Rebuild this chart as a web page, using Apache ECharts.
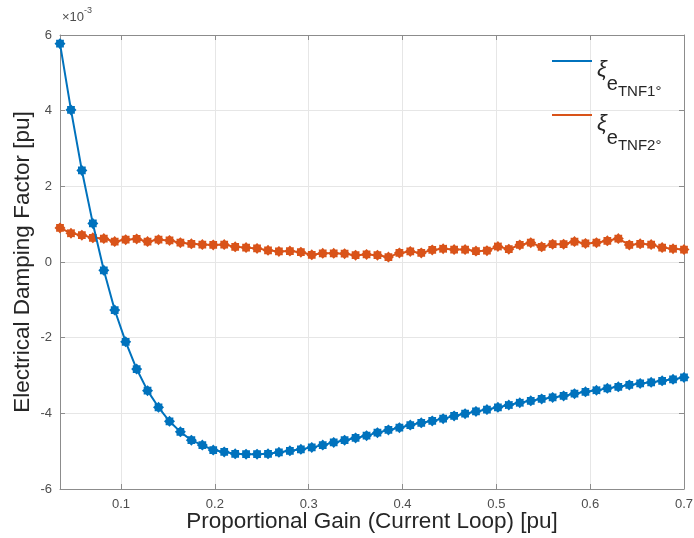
<!DOCTYPE html>
<html>
<head>
<meta charset="utf-8">
<title>Electrical damping factor</title>
<script src="https://cdn.jsdelivr.net/npm/echarts@6/dist/echarts.min.js"></script>
<style>
  html, body { margin: 0; padding: 0; background: #fff; }
  #main { width: 694px; height: 538px; }
</style>
</head>
<body>
<div id="main"></div>
<script>
// proportional gain of the current loop [pu]
var gainKp = [
  0.035, 0.0467, 0.0583, 0.07, 0.0817, 0.0933, 0.105, 0.1167, 0.1283, 0.14,
  0.1517, 0.1633, 0.175, 0.1867, 0.1983, 0.21, 0.2217, 0.2333, 0.245, 0.2567,
  0.2683, 0.28, 0.2917, 0.3033, 0.315, 0.3267, 0.3383, 0.35, 0.3617, 0.3733,
  0.385, 0.3967, 0.4083, 0.42, 0.4317, 0.4433, 0.455, 0.4667, 0.4783, 0.49,
  0.5017, 0.5133, 0.525, 0.5367, 0.5483, 0.56, 0.5717, 0.5833, 0.595, 0.6067,
  0.6183, 0.63, 0.6417, 0.6533, 0.665, 0.6767, 0.6883, 0.7
];
// damping factor, in units of 1e-3 pu
var dampTNF1 = [
  5.77, 4.02, 2.42, 1.02, -0.22, -1.27, -2.11, -2.83, -3.40, -3.84,
  -4.21, -4.49, -4.71, -4.84, -4.97, -5.02, -5.07, -5.08, -5.08, -5.07,
  -5.03, -4.99, -4.95, -4.90, -4.84, -4.77, -4.71, -4.65, -4.59, -4.51,
  -4.44, -4.38, -4.31, -4.25, -4.20, -4.14, -4.07, -4.01, -3.95, -3.90,
  -3.84, -3.78, -3.72, -3.67, -3.62, -3.58, -3.54, -3.48, -3.43, -3.39,
  -3.34, -3.30, -3.25, -3.21, -3.18, -3.14, -3.10, -3.05
];
var dampTNF2 = [
  0.90, 0.76, 0.71, 0.64, 0.62, 0.54, 0.59, 0.61, 0.54, 0.59,
  0.57, 0.51, 0.48, 0.46, 0.45, 0.46, 0.40, 0.38, 0.36, 0.31,
  0.28, 0.29, 0.26, 0.19, 0.23, 0.23, 0.22, 0.18, 0.20, 0.18,
  0.13, 0.24, 0.28, 0.24, 0.32, 0.35, 0.33, 0.33, 0.29, 0.30,
  0.41, 0.34, 0.45, 0.51, 0.40, 0.47, 0.47, 0.54, 0.49, 0.51,
  0.56, 0.62, 0.45, 0.48, 0.46, 0.38, 0.35, 0.33
];
var seriesNames = ["TNF1°", "TNF2°"];

var chart = echarts.init(document.getElementById("main"));
var fontFamily = "'Liberation Sans', Arial, sans-serif";
var axisColor = "#8c8c8c";
var labelColor = "#4d4d4d";
var gridColor = "#e6e6e6";

// matlab '*' marker drawn thick looks like a bumpy blob
function starPath(n) {
  var pts = [];
  for (var i = 0; i < n * 2; i++) {
    var r = i % 2 === 0 ? 1 : 0.76;
    var a = (Math.PI * i) / n - Math.PI / 2;
    pts.push((r * Math.cos(a)).toFixed(3) + "," + (r * Math.sin(a)).toFixed(3));
  }
  return "path://M" + pts.join("L") + "Z";
}
var marker = starPath(8);

function pairs(xs, ys) {
  var out = [];
  for (var i = 0; i < xs.length; i++) out.push([xs[i], ys[i]]);
  return out;
}

var tickStyle = { show: true, inside: true, length: 5, lineStyle: { color: axisColor } };
var lineStyle = { show: true, onZero: false, lineStyle: { color: axisColor } };

var option = {
  backgroundColor: "#fff",
  animation: false,
  grid: { left: 60, right: 10, top: 35, bottom: 49, outerBoundsMode: "none", containLabel: false },
  legend: {
    orient: "vertical",
    left: 552,
    top: 49,
    padding: 0,
    itemGap: 4,
    itemWidth: 40,
    itemHeight: 2,
    icon: "rect",
    data: seriesNames,
    formatter: function (name) {
      return "{a|ξ}{b|e}{c|" + name + "}";
    },
    textStyle: {
      fontFamily: fontFamily,
      color: "#262626",
      rich: {
        a: { fontSize: 22, lineHeight: 24, verticalAlign: "top", padding: [10, 0, 0, 0], fontStyle: "italic" },
        b: { fontSize: 20, lineHeight: 20, verticalAlign: "top", padding: [25, 0, 0, 0] },
        c: { fontSize: 15, lineHeight: 15, verticalAlign: "top", padding: [35, 0, 0, 0] },
      },
    },
  },
  xAxis: [
    {
      type: "value",
      min: 0.035,
      max: 0.7,
      name: "Proportional Gain (Current Loop) [pu]",
      nameLocation: "middle",
      nameGap: 21,
      nameMoveOverlap: false,
      nameTextStyle: { fontFamily: fontFamily, fontSize: 22.5, color: "#262626" },
      axisLine: lineStyle,
      axisTick: tickStyle,
      axisLabel: { showMinLabel: false, color: labelColor, fontSize: 13, fontFamily: fontFamily, margin: 9 },
      splitLine: { show: true, lineStyle: { color: gridColor } },
    },
    {
      type: "value",
      position: "top",
      min: 0.035,
      max: 0.7,
      axisLine: lineStyle,
      axisTick: tickStyle,
      axisLabel: { show: false },
      splitLine: { show: false },
    },
  ],
  yAxis: [
    {
      type: "value",
      min: -6,
      max: 6,
      interval: 2,
      name: "Electrical Damping Factor [pu]",
      nameLocation: "middle",
      nameGap: 26,
      nameMoveOverlap: false,
      nameTextStyle: { fontFamily: fontFamily, fontSize: 22.5, color: "#262626" },
      axisLine: lineStyle,
      axisTick: tickStyle,
      axisLabel: { color: labelColor, fontSize: 13, fontFamily: fontFamily, margin: 8 },
      splitLine: { show: true, lineStyle: { color: gridColor } },
    },
    {
      type: "value",
      position: "right",
      min: -6,
      max: 6,
      interval: 2,
      axisLine: lineStyle,
      axisTick: tickStyle,
      axisLabel: { show: false },
      splitLine: { show: false },
    },
  ],
  graphic: [
    {
      type: "text",
      left: 62,
      top: 6,
      style: {
        text: "{m|×10}{e|-3}",
        fontFamily: fontFamily,
        fill: labelColor,
        rich: {
          m: { fontSize: 13, fill: labelColor, verticalAlign: "top", padding: [5, 0, 0, 0] },
          e: { fontSize: 9, fill: labelColor, verticalAlign: "top" },
        },
      },
    },
  ],
  series: [
    {
      name: seriesNames[0],
      type: "line",
      symbol: marker,
      symbolSize: 11,
      showAllSymbol: true,
      color: "#0072BD",
      lineStyle: { width: 2, color: "#0072BD" },
      data: pairs(gainKp, dampTNF1),
      z: 3,
    },
    {
      name: seriesNames[1],
      type: "line",
      symbol: marker,
      symbolSize: 11,
      showAllSymbol: true,
      color: "#D95319",
      lineStyle: { width: 2, color: "#D95319" },
      data: pairs(gainKp, dampTNF2),
      z: 2,
    },
  ],
};
chart.setOption(option);
</script>
</body>
</html>
